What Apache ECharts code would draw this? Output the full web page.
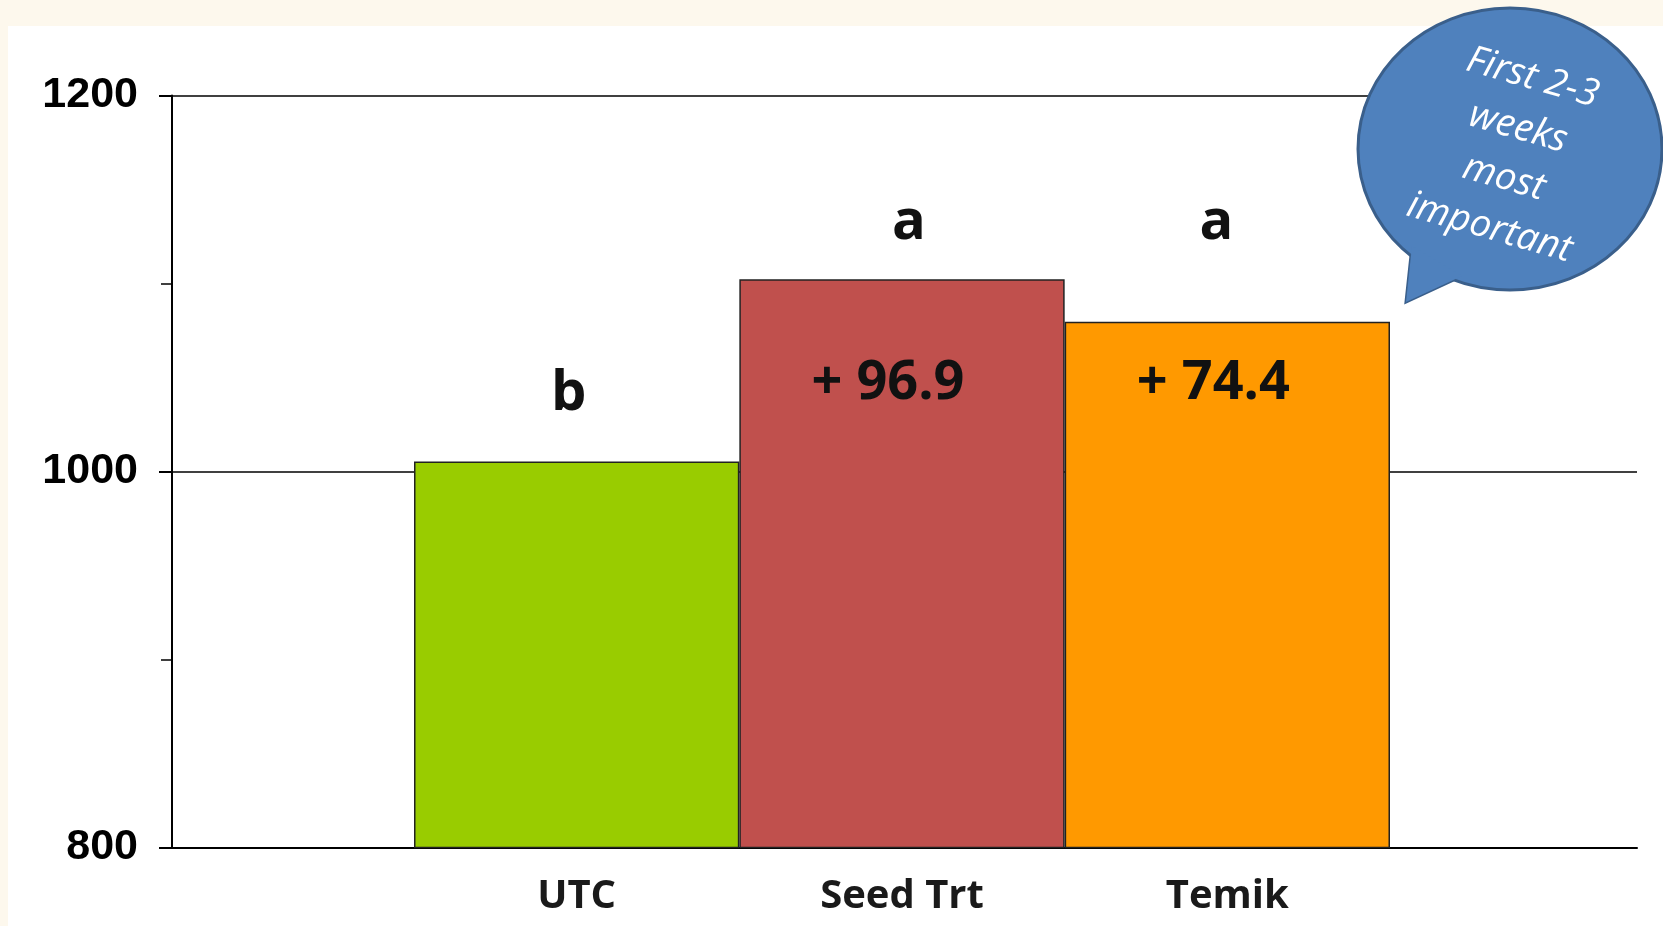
<!DOCTYPE html>
<html>
<head>
<meta charset="utf-8">
<script src="https://cdn.jsdelivr.net/npm/echarts@6/dist/echarts.min.js"></script>
<style>
  html, body { margin: 0; padding: 0; }
  #chart { width: 1663px; height: 926px; }
</style>
</head>
<body>
<div id="chart"></div>
<script>
// data
var categories = ['UTC', 'Seed Trt', 'Temik']
var yields = [1005.3, 1102.2, 1079.7]
var barColors = ['#99cc00', '#c0504d', '#ff9900']
var letters = ['b', 'a', 'a']
var gains = ['', '+ 96.9', '+ 74.4']
var yTicks = [800, 1000, 1200]

var chart = echarts.init(document.getElementById('chart'))

// where the annotation text sits (value units / px nudges)
var letterLevel = [1041, 1132, 1132]
var letterShift = [-8, 7, -11]
var gainLevel = 1047

var bubbleFill = '#4f81bd'
var bubbleEdge = '#3a5f8b'
var tail = [[1412, 246], [1406, 302], [1462, 276]]

var option = {
  backgroundColor: '#fdf8ed',
  animation: false,
  grid: [
    { left: 172, right: 26, top: 95.5, bottom: 78.5 },
    { left: 414, right: 273, top: 95.5, bottom: 78.5 },
  ],
  xAxis: [
    {
      gridIndex: 0,
      type: 'category',
      data: [''],
      axisLine: { lineStyle: { color: '#000', width: 2 } },
      axisTick: { length: 15, lineStyle: { color: '#000', width: 2 } },
      axisLabel: { show: false },
    },
    {
      gridIndex: 1,
      type: 'category',
      data: categories,
      axisLine: { show: false },
      axisTick: { show: false },
      axisLabel: {
        color: '#1a1a1a',
        fontSize: 40,
        fontWeight: 'bold',
        fontFamily: 'Open Sans',
        margin: 29,
      },
    },
  ],
  yAxis: [
    {
      gridIndex: 0,
      type: 'value',
      min: yTicks[0],
      max: yTicks[yTicks.length - 1],
      interval: 200,
      axisLine: { show: true, lineStyle: { color: '#000', width: 2 } },
      axisTick: { show: true, length: 13, lineStyle: { color: '#000', width: 2 } },
      minorTick: { show: true, splitNumber: 2, length: 11, lineStyle: { color: '#000', width: 1.5 } },
      splitLine: { lineStyle: { color: '#000', width: 1.5 } },
      axisLabel: {
        color: '#000',
        fontSize: 43,
        fontWeight: 'bold',
        fontFamily: 'Liberation Sans',
        margin: 34,
        formatter: function (v) { return String(v) },
      },
    },
    {
      gridIndex: 1,
      type: 'value',
      min: yTicks[0],
      max: yTicks[yTicks.length - 1],
      show: false,
    },
  ],
  series: [
    {
      type: 'bar',
      xAxisIndex: 1,
      yAxisIndex: 1,
      barCategoryGap: 0,
      data: yields.map(function (v, i) {
        return { value: v, itemStyle: { color: barColors[i] } }
      }),
      itemStyle: { borderColor: '#222', borderWidth: 1.5 },
      markPoint: {
        symbol: 'circle',
        symbolSize: 0,
        label: {
          show: true,
          position: 'inside',
          color: '#111',
          fontWeight: 'bold',
          fontFamily: 'Open Sans',
        },
        data: letters
          .map(function (t, i) {
            return {
              coord: [i, letterLevel[i]],
              label: { formatter: t, fontSize: 56, offset: [letterShift[i], 0] },
            }
          })
          .concat(
            gains
              .map(function (t, i) {
                return {
                  coord: [i, gainLevel],
                  label: { formatter: t, fontSize: 54, offset: [-14, 0] },
                }
              })
              .filter(function (d, i) {
                return gains[i] !== ''
              })
          ),
      },
    },
  ],
  graphic: {
    elements: [
      {
        type: 'rect',
        z: -10,
        shape: { x: 8, y: 26, width: 1655, height: 900 },
        style: { fill: '#ffffff' },
      },
      {
        type: 'polygon',
        zlevel: 1,
        z: 100,
        shape: { points: tail },
        style: { fill: bubbleFill, stroke: bubbleEdge, lineWidth: 3 },
      },
      {
        type: 'ellipse',
        zlevel: 1,
        z: 101,
        shape: { cx: 1510, cy: 149, rx: 152, ry: 141 },
        style: { fill: bubbleFill, stroke: bubbleEdge, lineWidth: 3 },
      },
      {
        type: 'polygon',
        zlevel: 1,
        z: 102,
        shape: { points: tail },
        style: { fill: bubbleFill },
      },
      {
        type: 'text',
        zlevel: 1,
        z: 103,
        x: 1511,
        y: 153,
        rotation: -16 * Math.PI / 180,
        style: {
          text: 'First 2-3\nweeks\nmost\nimportant',
          fill: '#ffffff',
          font: 'italic 38px "Open Sans"',
          lineHeight: 52,
          align: 'center',
          verticalAlign: 'middle',
        },
      },
    ],
  },
}

chart.setOption(option)
</script>
</body>
</html>
